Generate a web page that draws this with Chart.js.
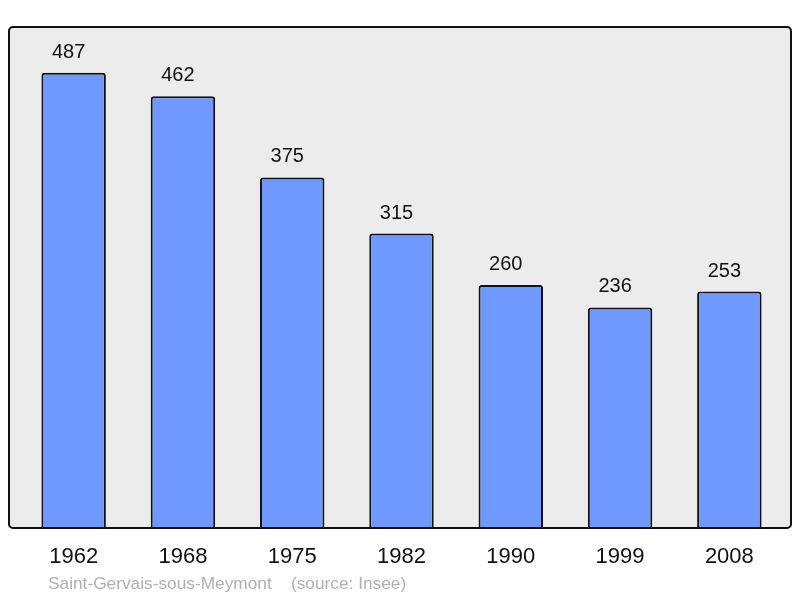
<!DOCTYPE html>
<html>
<head>
<meta charset="utf-8">
<script src="https://cdn.jsdelivr.net/npm/chart.js@4/dist/chart.umd.min.js"></script>
<style>
html,body{margin:0;padding:0;background:#fff;}
#wrap{width:800px;height:598px;position:relative;}
</style>
</head>
<body>
<div id="wrap"><canvas id="c" width="800" height="598"></canvas></div>
<script>
const years = ["1962","1968","1975","1982","1990","1999","2008"];
const population = [487,462,375,315,260,236,253];
const sourceText = "Saint-Gervais-sous-Meymont    (source: Insee)";

const FONT = "'Liberation Sans', Arial, sans-serif";

const boxPlugin = {
  id: 'box',
  beforeDatasetsDraw(chart) {
    const {ctx, chartArea: a} = chart;
    ctx.save();
    ctx.fillStyle = '#ececec';
    ctx.beginPath();
    ctx.roundRect(a.left - 10, a.top, (a.right + 7) - (a.left - 10), a.bottom - a.top, 4);
    ctx.fill();
    ctx.restore();
  },
  afterDatasetsDraw(chart) {
    const {ctx, chartArea: a} = chart;
    ctx.save();
    ctx.strokeStyle = '#111';
    ctx.lineWidth = 2;
    ctx.beginPath();
    ctx.roundRect(a.left - 10, a.top, (a.right + 7) - (a.left - 10), a.bottom - a.top, 4);
    ctx.stroke();
    // value labels
    const meta = chart.getDatasetMeta(0);
    ctx.fillStyle = '#111';
    ctx.font = "20px " + FONT;
    ctx.textAlign = 'center';
    ctx.textBaseline = 'alphabetic';
    meta.data.forEach((bar, i) => {
      ctx.fillText(String(chart.data.datasets[0].data[i]), bar.x - 5, bar.y - 15);
    });
    // source
    ctx.fillStyle = '#b0b0b0';
    ctx.font = "17.3px " + FONT;
    ctx.textAlign = 'left';
    ctx.textBaseline = 'middle';
    ctx.fillText(sourceText, 48, 584);
    ctx.restore();
  }
};

new Chart(document.getElementById('c'), {
  type: 'bar',
  data: {
    labels: years,
    datasets: [{
      data: population,
      backgroundColor: '#7099ff',
      borderColor: '#111',
      borderWidth: 2,
      borderRadius: 3,
      barPercentage: 0.59,
      categoryPercentage: 1
    }]
  },
  options: {
    responsive: false,
    animation: false,
    devicePixelRatio: 1,
    layout: { padding: { left: 19, right: 16, top: 27, bottom: 20 } },
    plugins: { legend: { display: false }, tooltip: { enabled: false } },
    scales: {
      y: { display: false, min: 0, max: 536 },
      x: {
        grid: { display: false, drawTicks: false },
        border: { display: false },
        ticks: { color: '#111', font: { size: 22, family: FONT }, padding: 16, maxRotation: 0 },
        afterFit(s) { s.height = 50; }
      }
    }
  },
  plugins: [boxPlugin]
});
</script>
</body>
</html>
